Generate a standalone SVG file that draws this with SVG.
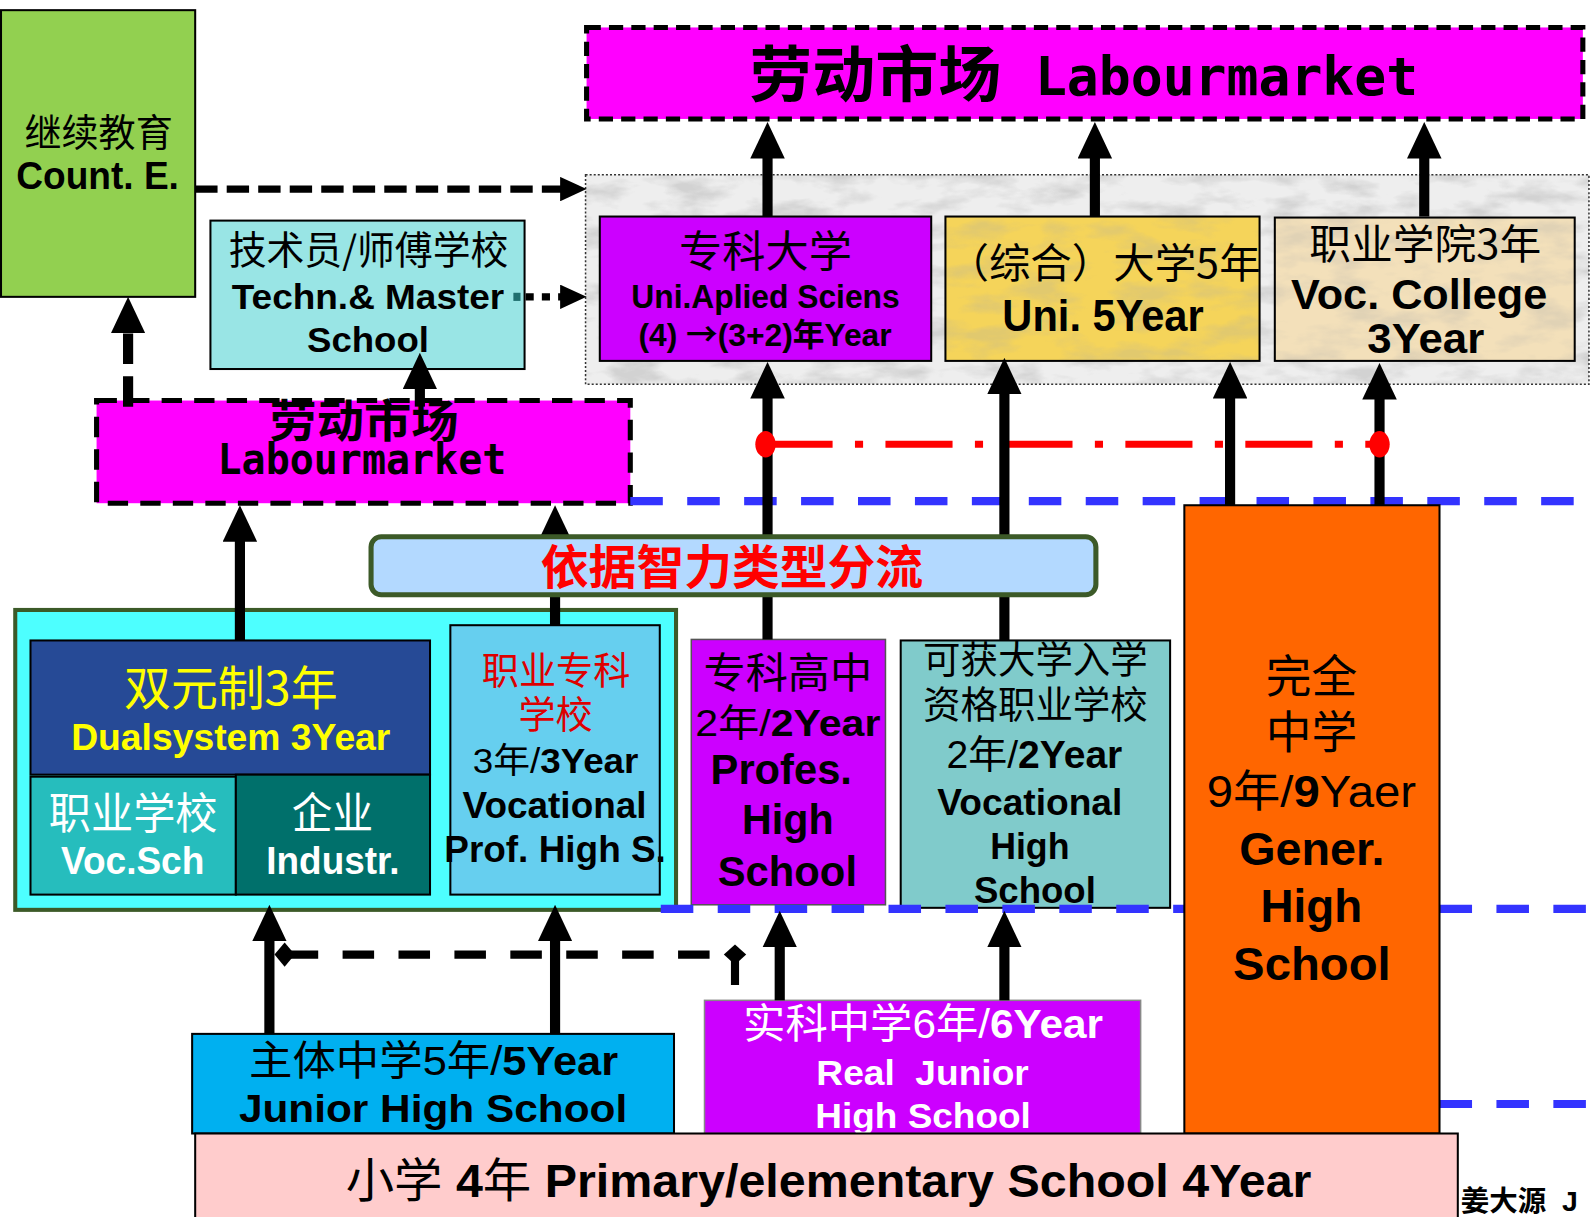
<svg xmlns="http://www.w3.org/2000/svg" width="1594" height="1217" viewBox="0 0 1594 1217">
<style>
 .c { font-family: "Noto Sans CJK SC", sans-serif; }
 .l { font-family: "Liberation Sans", "Noto Sans CJK SC", sans-serif; }
 .m { font-family: "DejaVu Sans Mono", "Liberation Mono", monospace; font-weight: bold; }
 .b { font-weight: bold; }
 .box { stroke: #000; stroke-width: 2; }
 .arrow { stroke: #000; stroke-width: 10; fill: none; marker-end: url(#ah); }
 .blue { stroke: #3333FF; stroke-width: 8; stroke-dasharray: 32 24; fill: none; }
 .w { fill: #FFFFFF; }
</style>
<defs>
 <marker id="ah" viewBox="0 0 36 34" refX="12" refY="17" markerWidth="36" markerHeight="34" markerUnits="userSpaceOnUse" orient="auto">
  <path d="M0,0 L36,17 L0,34 Z" fill="#000"/>
 </marker>
 <marker id="ahs" viewBox="0 0 26 24" refX="8" refY="12" markerWidth="26" markerHeight="24" markerUnits="userSpaceOnUse" orient="auto">
  <path d="M0,0 L26,12 L0,24 Z" fill="#000"/>
 </marker>
 <filter id="marble" x="0" y="0" width="100%" height="100%">
  <feTurbulence type="fractalNoise" baseFrequency="0.02 0.05" numOctaves="4" seed="11" result="n"/>
  <feColorMatrix in="n" type="matrix" values="0 0 0 0 0.4  0 0 0 0 0.4  0 0 0 0 0.4  -3 0 0 0 1.7" result="g"/>
  <feComposite in="g" in2="SourceAlpha" operator="in"/>
 </filter>
</defs>
<rect width="1594" height="1217" fill="#FFFFFF"/>
<g transform="scale(1.0166)">

 <g id="uni-panel">
  <rect x="576" y="172" width="987" height="206" fill="#eeeeee"/>
  <rect x="576" y="172" width="987" height="206" fill="#fff" filter="url(#marble)" opacity="0.4"/>
  <rect x="576" y="172" width="987" height="206" fill="none" stroke="#333" stroke-width="1.5" stroke-dasharray="2 2"/>
 </g>

 <g id="labourmarket-top">
  <rect x="577" y="27" width="980" height="90" fill="#FF00FF" stroke="#000" stroke-width="5" stroke-dasharray="14 8"/>
  <text class="c b" x="737" y="95" font-size="60" textLength="248" lengthAdjust="spacingAndGlyphs">劳动市场</text>
  <text class="m" x="1018" y="93" font-size="53" textLength="377" lengthAdjust="spacingAndGlyphs">Labourmarket</text>
 </g>

 <g id="uni-applied">
  <rect class="box" x="590" y="213" width="326" height="142" fill="#CC00FF" stroke-width="2.5"/>
  <text class="c" x="668" y="263" font-size="42" textLength="170" lengthAdjust="spacingAndGlyphs">专科大学</text>
  <text class="l b" x="621" y="303" font-size="32" textLength="264" lengthAdjust="spacingAndGlyphs">Uni.Aplied Sciens</text>
  <text class="l b" x="628" y="340" font-size="31" textLength="249" lengthAdjust="spacingAndGlyphs">(4) <tspan font-family="Noto Sans CJK SC, sans-serif">→</tspan>(3+2)年Year</text>
 </g>

 <g id="uni-5year">
  <rect x="930" y="213" width="309" height="142" fill="#F5D45A"/>
  <rect x="930" y="213" width="309" height="142" fill="#fff" filter="url(#marble)" opacity="0.25"/>
  <rect class="box" x="930" y="213" width="309" height="142" fill="none"/>
  <text class="c" x="932" y="273" font-size="40" textLength="308" lengthAdjust="spacingAndGlyphs">（综合）大学5年</text>
  <text class="l b" x="986" y="326" font-size="44" textLength="198" lengthAdjust="spacingAndGlyphs">Uni. 5Year</text>
 </g>

 <g id="voc-college">
  <rect x="1254" y="214" width="295" height="141" fill="#F3E0BA"/>
  <rect x="1254" y="214" width="295" height="141" fill="#fff" filter="url(#marble)" opacity="0.25"/>
  <rect class="box" x="1254" y="214" width="295" height="141" fill="none" stroke="#333"/>
  <text class="c" x="1288" y="255" font-size="40" textLength="228" lengthAdjust="spacingAndGlyphs">职业学院3年</text>
  <text class="l b" x="1270" y="304" font-size="41" textLength="252" lengthAdjust="spacingAndGlyphs">Voc. College</text>
  <text class="l b" x="1345" y="347" font-size="41" textLength="115" lengthAdjust="spacingAndGlyphs">3Year</text>
 </g>

 <g id="continuing-education">
  <rect class="box" x="1" y="10" width="191" height="282" fill="#92D050"/>
  <text class="c" x="24" y="144" font-size="37" textLength="146" lengthAdjust="spacingAndGlyphs">继续教育</text>
  <text class="l b" x="16" y="186" font-size="38" textLength="160" lengthAdjust="spacingAndGlyphs">Count. E.</text>
 </g>

 <g id="techn-master">
  <rect class="box" x="207" y="217" width="309" height="146" fill="#99E5E5"/>
  <text class="c" x="225" y="260" font-size="38" textLength="275" lengthAdjust="spacingAndGlyphs">技术员/师傅学校</text>
  <text class="l b" x="228" y="304" font-size="35" textLength="268" lengthAdjust="spacingAndGlyphs">Techn.&amp; Master</text>
  <text class="l b" x="302" y="346" font-size="35" textLength="120" lengthAdjust="spacingAndGlyphs">School</text>
  <rect x="505" y="288" width="7" height="8" fill="#1F6F6F"/>
 </g>

 <g id="labourmarket-small">
  <rect x="95" y="394" width="525" height="101" fill="#FF00FF" stroke="#000" stroke-width="5" stroke-dasharray="20 12"/>
  <text class="c b" x="265" y="431" font-size="45" textLength="186" lengthAdjust="spacingAndGlyphs">劳动市场</text>
  <text class="m" x="214" y="466" font-size="42" textLength="284" lengthAdjust="spacingAndGlyphs">Labourmarket</text>
 </g>

 <g id="dual-container">
  <rect x="15" y="600" width="650" height="295" fill="#4DFFFF" stroke="#3C5A28" stroke-width="4"/>
 </g>

 <g id="dualsystem">
  <rect class="box" x="30" y="630" width="393" height="132" fill="#264A96"/>
  <text class="c" x="122" y="693" font-size="46" fill="#FFFF00" textLength="210" lengthAdjust="spacingAndGlyphs">双元制3年</text>
  <text class="l b" x="70" y="738" font-size="36" fill="#FFFF00" textLength="314" lengthAdjust="spacingAndGlyphs">Dualsystem 3Year</text>
 </g>

 <g id="voc-school">
  <rect class="box" x="30" y="764" width="202" height="116" fill="#26BDBD"/>
  <text class="c w" x="48" y="815" font-size="42" textLength="166" lengthAdjust="spacingAndGlyphs">职业学校</text>
  <text class="l b w" x="60" y="860" font-size="38" textLength="141" lengthAdjust="spacingAndGlyphs">Voc.Sch</text>
 </g>

 <g id="industry">
  <rect class="box" x="232" y="762" width="191" height="118" fill="#00706B"/>
  <text class="c w" x="287" y="815" font-size="42" textLength="80" lengthAdjust="spacingAndGlyphs">企业</text>
  <text class="l b w" x="262" y="860" font-size="38" textLength="131" lengthAdjust="spacingAndGlyphs">Industr.</text>
 </g>

 <g id="voc-prof-school">
  <rect class="box" x="443" y="615" width="206" height="265" fill="#66CFEF"/>
  <text class="c" x="474" y="673" font-size="37" fill="#DD0000" textLength="146" lengthAdjust="spacingAndGlyphs">职业专科</text>
  <text class="c" x="510" y="716" font-size="37" fill="#DD0000" textLength="73" lengthAdjust="spacingAndGlyphs">学校</text>
  <text class="l" x="465" y="760" font-size="35" textLength="163" lengthAdjust="spacingAndGlyphs">3年/<tspan class="b">3Year</tspan></text>
  <text class="l b" x="455" y="805" font-size="37" textLength="181" lengthAdjust="spacingAndGlyphs">Vocational</text>
  <text class="l b" x="437" y="848" font-size="37" textLength="218" lengthAdjust="spacingAndGlyphs">Prof. High S.</text>
 </g>

 <g id="prof-high-school">
  <rect x="680" y="629" width="191" height="261" fill="#CC00FF" stroke="#555" stroke-width="1.5"/>
  <text class="c" x="692" y="677" font-size="41" textLength="166" lengthAdjust="spacingAndGlyphs">专科高中</text>
  <text class="l" x="684" y="724" font-size="37" textLength="182" lengthAdjust="spacingAndGlyphs">2年/<tspan class="b">2Year</tspan></text>
  <text class="l b" x="699" y="771" font-size="41" textLength="139" lengthAdjust="spacingAndGlyphs">Profes.</text>
  <text class="l b" x="730" y="820" font-size="41" textLength="90" lengthAdjust="spacingAndGlyphs">High</text>
  <text class="l b" x="706" y="872" font-size="41" textLength="137" lengthAdjust="spacingAndGlyphs">School</text>
 </g>

 <g id="voc-high-school">
  <rect class="box" x="886" y="630" width="265" height="263" fill="#80CBCB"/>
  <text class="c" x="908" y="662" font-size="37" textLength="221" lengthAdjust="spacingAndGlyphs">可获大学入学</text>
  <text class="c" x="908" y="706" font-size="37" textLength="221" lengthAdjust="spacingAndGlyphs">资格职业学校</text>
  <text class="l" x="931" y="755" font-size="38" textLength="173" lengthAdjust="spacingAndGlyphs">2年/<tspan class="b">2Year</tspan></text>
  <text class="l b" x="922" y="802" font-size="37" textLength="182" lengthAdjust="spacingAndGlyphs">Vocational</text>
  <text class="l b" x="974" y="845" font-size="37" textLength="78" lengthAdjust="spacingAndGlyphs">High</text>
  <text class="l b" x="958" y="888" font-size="37" textLength="120" lengthAdjust="spacingAndGlyphs">School</text>
 </g>

 <g id="guides">
  <path class="blue" d="M620,493 H1572"/>
  <path class="blue" d="M650,894 H1165 M1416,894 H1572"/>
  <path class="blue" d="M1416,1086 H1572"/>
  <path d="M753,437 H1357" stroke="#FF0000" stroke-width="7" stroke-dasharray="66 22 8 22" fill="none"/>
 </g>

 <g id="gymnasium">
  <rect class="box" x="1165" y="497" width="251" height="618" fill="#FF6600"/>
  <text class="c" x="1245" y="682" font-size="45" textLength="90" lengthAdjust="spacingAndGlyphs">完全</text>
  <text class="c" x="1245" y="737" font-size="45" textLength="90" lengthAdjust="spacingAndGlyphs">中学</text>
  <text class="l" x="1187" y="794" font-size="44" textLength="206" lengthAdjust="spacingAndGlyphs">9年/<tspan class="b">9</tspan>Yaer</text>
  <text class="l b" x="1219" y="851" font-size="46" textLength="143" lengthAdjust="spacingAndGlyphs">Gener.</text>
  <text class="l b" x="1240" y="907" font-size="46" textLength="100" lengthAdjust="spacingAndGlyphs">High</text>
  <text class="l b" x="1213" y="964" font-size="46" textLength="155" lengthAdjust="spacingAndGlyphs">School</text>
 </g>

 <g id="hauptschule">
  <rect class="box" x="189" y="1017" width="474" height="98" fill="#00B0F0"/>
  <text class="l" x="245" y="1057" font-size="40" textLength="363" lengthAdjust="spacingAndGlyphs">主体中学5年/<tspan class="b">5Year</tspan></text>
  <text class="l b" x="235" y="1104" font-size="39" textLength="382" lengthAdjust="spacingAndGlyphs">Junior High School</text>
 </g>

 <g id="realschule">
  <rect x="693" y="984" width="429" height="131" fill="#CC00FF" stroke="#888" stroke-width="1.5"/>
  <text class="l w" x="731" y="1021" font-size="40" textLength="354" lengthAdjust="spacingAndGlyphs">实科中学6年/<tspan class="b">6Year</tspan></text>
  <text class="l b w" x="803" y="1067" font-size="35" xml:space="preserve" textLength="209" lengthAdjust="spacingAndGlyphs">Real  Junior</text>
  <text class="l b w" x="802" y="1110" font-size="35" textLength="212" lengthAdjust="spacingAndGlyphs">High School</text>
 </g>

 <g id="primary">
  <rect class="box" x="192" y="1115" width="1242" height="90" fill="#FFCCCC"/>
  <text class="l" x="340" y="1177" font-size="46" xml:space="preserve" textLength="950" lengthAdjust="spacingAndGlyphs">小学 <tspan class="b">4</tspan>年 <tspan class="b">Primary/elementary School 4Year</tspan></text>
 </g>

 <g id="credit">
  <text class="l b" x="1437" y="1191" font-size="28" xml:space="preserve">姜大源  J</text>
 </g>

 <g id="connectors">
  <path class="arrow" d="M755,213 V144"/>
  <path class="arrow" d="M1077,213 V144"/>
  <path class="arrow" d="M1401,213 V144"/>
  <path class="arrow" d="M755,629 V380"/>
  <path class="arrow" d="M988,630 V376"/>
  <path class="arrow" d="M1210,497 V380"/>
  <path class="arrow" d="M1357,497 V381"/>
  <path class="arrow" d="M236,630 V521"/>
  <path class="arrow" d="M546,615 V521"/>
  <path class="arrow" d="M413,400 V371"/>
  <path d="M126,400 V316" stroke="#000" stroke-width="10" stroke-dasharray="30 12" fill="none" marker-end="url(#ah)"/>
  <path d="M192,186 H559" stroke="#000" stroke-width="7" stroke-dasharray="22 9" fill="none" marker-end="url(#ahs)"/>
  <path d="M517,292 H559" stroke="#000" stroke-width="7" stroke-dasharray="8 8" fill="none" marker-end="url(#ahs)"/>
  <path class="arrow" d="M265,1017 V914"/>
  <path class="arrow" d="M546,1017 V914"/>
  <path class="arrow" d="M767,984 V920"/>
  <path class="arrow" d="M988,984 V920"/>
  <path d="M282,939 H723 V984" stroke="#000" stroke-width="8" stroke-dasharray="31 24" fill="none"/>
  <polygon points="270,939 280,927 290,939 280,951" fill="#000"/>
  <polygon points="712,939 723,929 734,939 723,949" fill="#000"/>
 </g>

 <g id="red-dots">
  <ellipse cx="753" cy="437" rx="10" ry="13" fill="#FF0000"/>
  <ellipse cx="1357" cy="437" rx="10" ry="13" fill="#FF0000"/>
 </g>

 <g id="streaming">
  <rect x="365" y="528" width="713" height="57" rx="10" fill="#B3D9FF" stroke="#3C5A28" stroke-width="5"/>
  <text class="c b" x="532" y="574" font-size="46" fill="#FF0000" textLength="376" lengthAdjust="spacingAndGlyphs">依据智力类型分流</text>
 </g>
</g>
</svg>
